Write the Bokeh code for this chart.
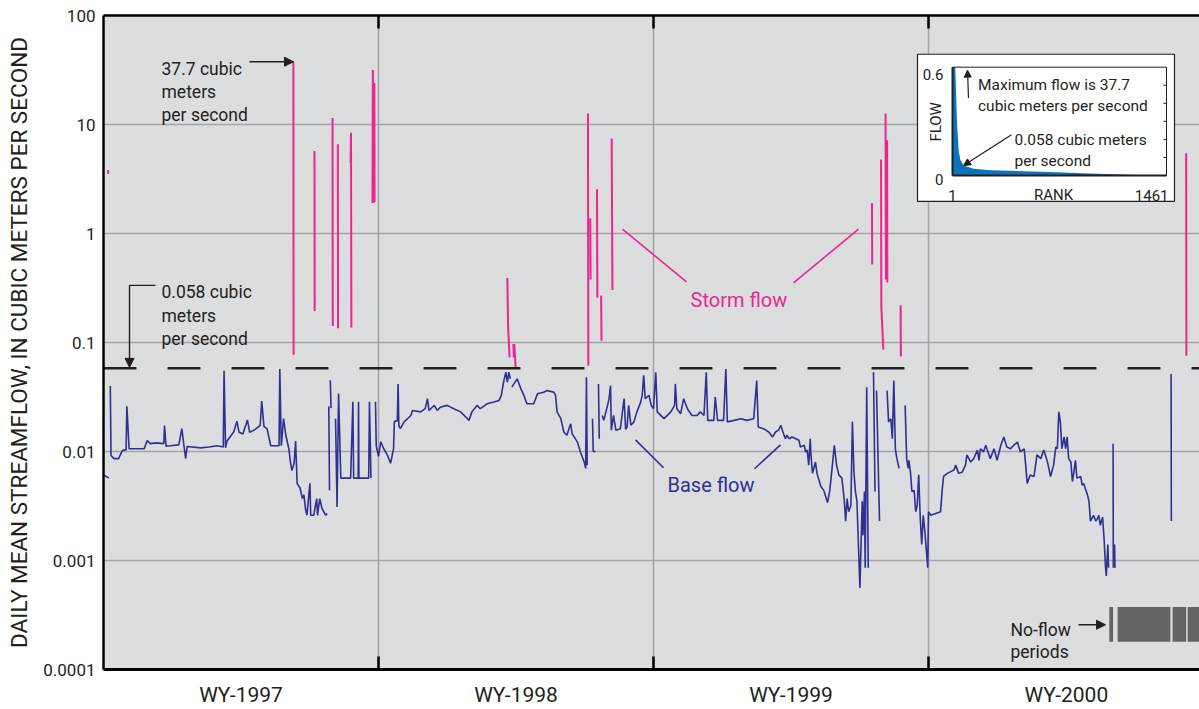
import numpy as np
from bokeh.plotting import figure
from bokeh.models import (Range1d, LinearScale, FixedTicker, LinearAxis, Span,
                          Arrow, NormalHead, ColumnDataSource)
from bokeh.core.properties import value
from bokeh.embed import file_html
from bokeh.resources import INLINE

# ---------------------------------------------------------------- data
year_bounds = [365, 730, 1095]
year_centers = [182.5, 547.5, 912.5, 1278]
year_labels = ["WY-1997", "WY-1998", "WY-1999", "WY-2000"]
ytick_values = [0.0001, 0.001, 0.01, 0.1, 1, 10, 100]
ytick_labels = ["0.0001", "0.001", "0.01", "0.1", "1", "10", "100"]
threshold = 0.058

# base flow (day of record, m3/s); None marks a break in the trace
base_wy1997 = [
    (0, 0.0061), (7, 0.0057), (8, None),
    (9, 0.040), (10, 0.0092), (14, 0.0086), (20, 0.0086), (25, 0.0102), (30, 0.0104),
    (31, 0.026), (34, 0.0106), (54, 0.0106), (58, 0.0126), (62, 0.0118), (70, 0.0120),
    (80, 0.0118), (81, 0.0173), (83, 0.0112), (89, 0.0113), (100, 0.0115), (104, 0.0162),
    (107, 0.0110), (109, 0.0086), (111, 0.0111), (129, 0.0108), (140, 0.0110), (151, 0.0113),
    (159, 0.0110), (160, 0.055), (162, 0.0108), (164, 0.0125), (173, 0.0152), (177, 0.019),
    (180, 0.0150), (185, 0.0145), (191, 0.0195), (194, 0.0150), (200, 0.0157), (208, 0.0174),
    (210, 0.029), (213, 0.0169), (217, 0.0162), (222, 0.0113), (233, 0.0113), (234, 0.057),
    (236, 0.0113), (239, 0.020), (242, 0.0141), (246, 0.0106), (248, 0.0081), (250, 0.0067),
    (253, 0.0078), (255, 0.0125), (257, 0.0051), (261, 0.0046), (264, 0.0037), (266, 0.0040),
    (268, 0.0030), (270, 0.0026), (274, 0.0051), (275, 0.0026), (279, 0.0026), (283, 0.0037),
    (284, 0.0026), (287, 0.0037), (290, 0.0030), (295, 0.0026), (297, 0.0027), (298, None),
    (299, 0.026), (300, 0.0044), (300.5, None), (301, 0.045), (302, 0.025), (303, None),
    (308, 0.020), (310, 0.0031), (312, 0.034), (315, 0.0057), (328, 0.0057), (331, 0.0286),
    (332, 0.0057), (338, 0.0057), (338.5, 0.0286), (339, 0.0057), (352, 0.0057), (353, 0.0286),
    (355, 0.0057), (358, None),
    (361, 0.0286), (362, 0.0113), (365, 0.0090),
]
base_wy1998 = [
    (368, 0.0123), (372, 0.0106), (377, 0.0092), (381, 0.0078), (385, 0.0106), (386, 0.0188),
    (390, 0.0192), (391, 0.0417), (392, 0.0173), (394, 0.0162), (399, 0.0187), (408, 0.0214),
    (410, 0.0238), (421, 0.0231), (427, 0.0247), (430, 0.0305), (432, 0.0238), (439, 0.0265),
    (443, 0.0238), (447, 0.0255), (456, 0.0265), (465, 0.0247), (474, 0.0231), (481, 0.0207),
    (485, 0.0193), (489, 0.0231), (496, 0.0265), (500, 0.0247), (509, 0.0274), (518, 0.0284),
    (525, 0.0294), (528, 0.0327), (531, 0.0432), (534, 0.0534), (536, 0.0432), (538, 0.0534),
    (540, 0.0464), (541, None),
    (542, 0.0389), (549, 0.0464), (554, 0.0376), (558, 0.0327), (562, 0.0274), (571, 0.0274),
    (576, 0.0338), (584, 0.0349), (589, 0.0362), (598, 0.0349), (600, 0.0327), (602, 0.0231),
    (607, 0.0200), (611, 0.0151), (615, 0.0141), (620, 0.0180), (622, 0.0146), (629, 0.0122),
    (633, 0.0099), (638, 0.0080), (640, 0.0070), (641, 0.0480), (642, 0.0075), (645, None),
    (649, 0.020), (650, 0.0100), (653, 0.0100), (655, None),
    (657, 0.0417), (658, 0.0131), (660, None),
    (662, 0.0214), (664, 0.0193), (669, 0.0265), (671, 0.0305), (673, 0.0403), (674, 0.0157),
    (677, 0.0214), (680, 0.0157), (686, 0.0162), (691, 0.0305), (693, 0.0160), (695, 0.0168),
    (697, 0.0265), (700, 0.0174), (704, 0.0187), (708, 0.0231), (713, 0.0284), (715, 0.0327),
    (717, 0.0499), (719, 0.0305), (724, 0.0327), (727, 0.0265), (730, 0.0247),
]
base_wy1999 = [
    (733, 0.0534), (735, 0.0231), (744, 0.0200), (753, 0.0231), (758, 0.0265), (759, 0.0417),
    (761, 0.0247), (766, 0.0222), (770, 0.0305), (775, 0.0247), (781, 0.0214), (788, 0.0214),
    (792, 0.0231), (797, 0.0214), (800, 0.0534), (802, 0.0193), (810, 0.0193), (812, 0.0316),
    (815, 0.0193), (823, 0.0193), (826, 0.0572), (828, 0.0187), (837, 0.0193), (846, 0.0200),
    (854, 0.0193), (863, 0.0200), (867, 0.0447), (869, 0.0168), (876, 0.0162), (883, 0.0151),
    (888, 0.0136), (892, 0.0151), (896, 0.0157), (899, 0.0174), (901, 0.0157), (905, 0.0131),
    (907, 0.0141), (910, 0.0131), (914, 0.0136), (919, 0.0131), (923, 0.0127), (925, 0.0110),
    (930, 0.0114), (932, 0.0099), (934, 0.0103), (936, 0.0075), (938, 0.0131), (939, 0.0093),
    (941, 0.0063), (945, 0.0080), (947, 0.0063), (952, 0.0048), (956, 0.0044), (961, 0.0034),
    (964, 0.0044), (967, 0.0070), (970, 0.0114), (973, 0.0075), (976, 0.0061), (980, 0.0057),
    (983, 0.0037), (985, 0.0023), (987, 0.0037), (989, 0.0028), (992, 0.0032), (994, 0.0187),
    (996, 0.0065), (998, 0.0043), (1000, 0.0035), (1004, 0.00056), (1007, 0.0035),
    (1008, 0.0017), (1010, 0.0043), (1011, 0.00086), (1013, 0.0389), (1015, 0.00086),
    (1018, None),
    (1022, 0.0534), (1024, 0.0043), (1025, None),
    (1026, 0.0362), (1030, 0.0023), (1035, None),
    (1040, 0.0362), (1042, 0.0187), (1045, 0.0200), (1047, 0.0131), (1049, 0.0447),
    (1051, 0.0106), (1053, 0.0086), (1056, 0.0070), (1060, None),
    (1064, 0.0265), (1066, 0.0086), (1068, 0.0070), (1069, 0.0083), (1071, 0.0065),
    (1073, 0.0043), (1076, 0.0044), (1078, 0.0028), (1080, 0.0032), (1082, 0.0061),
    (1084, 0.0025), (1086, 0.0014), (1088, 0.0026), (1090, 0.0019), (1094, 0.00086),
    (1095, 0.0028),
]
base_wy2000 = [
    (1098, 0.0026), (1111, 0.0028), (1113, 0.0043), (1115, 0.0059), (1120, 0.0063),
    (1124, 0.0065), (1129, 0.0068), (1131, 0.0075), (1135, 0.0063), (1140, 0.0065),
    (1144, 0.0075), (1146, 0.0093), (1151, 0.0080), (1155, 0.0086), (1160, 0.0103),
    (1162, 0.0083), (1164, 0.0106), (1168, 0.0099), (1171, 0.0114), (1173, 0.0103),
    (1177, 0.0086), (1182, 0.0106), (1186, 0.0083), (1191, 0.0114), (1195, 0.0136),
    (1199, 0.0110), (1204, 0.0106), (1208, 0.0114), (1213, 0.0122), (1217, 0.0099),
    (1222, 0.0106), (1224, 0.0075), (1226, 0.0051), (1230, 0.0061), (1235, 0.0059),
    (1239, 0.0093), (1244, 0.0086), (1248, 0.0103), (1253, 0.0080), (1257, 0.0059),
    (1261, 0.0075), (1264, 0.0110), (1266, 0.0106), (1268, 0.0231), (1270, 0.0187),
    (1272, 0.0106), (1275, 0.0136), (1277, 0.0106), (1279, 0.0136), (1281, 0.0086),
    (1284, 0.0080), (1286, 0.0053), (1288, 0.0065), (1290, 0.0083), (1292, 0.0057),
    (1297, 0.0059), (1299, 0.0049), (1301, 0.0051), (1303, 0.0046), (1306, 0.0040),
    (1308, 0.0035), (1310, 0.0023), (1314, 0.0026), (1317, 0.0023), (1319, 0.0024),
    (1321, 0.0026), (1323, 0.0021), (1326, 0.0025), (1328, 0.0016), (1330, 0.00086),
    (1331, 0.00072), (1333, 0.0014), (1334, 0.00086), (1336, None),
    (1340, 0.0118), (1340.3, 0.00086), (1342, 0.0014), (1342.5, 0.00086), (1345, None),
    (1417, 0.0515), (1417.3, 0.0023),
]

# storm flow (day of record, m3/s); None marks a break
storm_points = [
    (6, 3.82), (6.3, 3.52), (6.5, None),
    (252, 37.7), (252.3, 0.077), (253, None),
    (280, 5.7), (280.3, 0.195), (281, None),
    (304, 11.5), (304.3, 0.142), (305, None),
    (311, 6.6), (311.3, 0.135), (312, None),
    (328, 4.4), (328.5, 8.4), (329, 0.137), (330, None),
    (357, 1.9), (357.5, 31.7), (358.5, 1.92), (359.5, 24.0), (359.8, 1.95), (360, None),
    (536, 0.39), (537, 0.142), (539, 0.073), (540, None),
    (544, 0.097), (544.5, 0.073), (545.2, 0.097), (547, 0.059), (548, None),
    (643, 12.6), (643.5, 0.0613), (644, None),
    (646, 1.38), (646.5, 0.379), (647, None),
    (655, 2.55), (655.5, 0.258), (656, None),
    (660.5, 0.27), (661, 0.104), (662, None),
    (674.5, 7.43), (675.5, 0.303), (676, None),
    (1020, 1.90), (1020.3, 0.519), (1021, None),
    (1032, 4.78), (1032.4, 0.216), (1035, 0.086), (1036, None),
    (1038, 12.6), (1038.5, 0.379), (1039, None),
    (1040, 7.18), (1040.4, 0.355), (1041, None),
    (1058, 0.22), (1058.3, 0.0746), (1059, None),
    (1437, 5.45), (1437.3, 0.0757),
]

# periods with no flow (day of record)
noflow_start = [1335, 1346, 1419, 1439]
noflow_end = [1340, 1416, 1437, 1461]

# inset: flow-duration curve (rank, m3/s)
inset_rank = [1, 20, 32, 43, 54, 77, 145, 260, 486, 712, 938, 1165, 1350, 1461]
inset_flow = [37.7, 0.6, 0.29, 0.14, 0.088, 0.055, 0.037, 0.029, 0.024, 0.018, 0.011, 0.006, 0.0, 0.0]
inset_ymax = 0.6

# ---------------------------------------------------------------- helpers
FONT = "Roboto"
TXT = "#231F20"
PINK = "#EC268F"
NAVY = "#2E3192"


def split(points):
    d = np.array([pt[0] for pt in points], dtype=float)
    v = np.array([np.nan if pt[1] is None else pt[1] for pt in points], dtype=float)
    return d, v


base_day, base_flow = split(base_wy1997 + base_wy1998 + base_wy1999 + base_wy2000)
storm_day, storm_flow = split(storm_points)

# frame geometry (pixels) used for the annotation coordinate system
FL, FR, FT, FB = 103, 1199, 15, 673
DAYS_PER_PX = 365 / 275.0

p = figure(width=1199, height=709, output_backend="svg", toolbar_location=None,
           x_range=Range1d(0, (FR - FL) * DAYS_PER_PX), y_range=Range1d(1e-4, 100),
           y_axis_type="log", min_border_left=FL, min_border_right=0,
           min_border_top=FT, min_border_bottom=709 - FB)
p.background_fill_color = "#DCDDDF"
p.border_fill_color = "white"
p.outline_line_color = None

# inset coordinate systems
IL, IR, IT, IB = 952, 1166, 67, 176
r_span = (1461 - 1) * (FR - FL) / (IR - IL)
r_start = 1 - (IL - FL) / (FR - FL) * r_span
f_span = inset_ymax * (FB - FT) / (IB - IT)
f_start = 0 - (FB - IB) / (FB - FT) * f_span
p.extra_x_ranges = {"px": Range1d(FL, FR), "rank": Range1d(r_start, r_start + r_span)}
p.extra_y_ranges = {"px": Range1d(FB, FT), "flow": Range1d(f_start, f_start + f_span)}
p.extra_x_scales = {"px": LinearScale(), "rank": LinearScale()}
p.extra_y_scales = {"px": LinearScale(), "flow": LinearScale()}

# axes
xa = p.xaxis[0]
xa.ticker = FixedTicker(ticks=year_centers, minor_ticks=year_bounds)
xa.major_label_overrides = dict(zip(year_centers, year_labels))
xa.major_tick_line_color = None
xa.major_tick_in = 0
xa.major_tick_out = 0
xa.minor_tick_in = 13
xa.minor_tick_out = 0
xa.minor_tick_line_color = "black"
xa.minor_tick_line_width = 2.5
xa.axis_line_color = "black"
xa.axis_line_width = 3
xa.major_label_text_font = FONT
xa.major_label_text_font_size = "21px"
xa.major_label_text_color = TXT
xa.major_label_standoff = 13

top = LinearAxis(ticker=FixedTicker(ticks=year_bounds, minor_ticks=[]),
                 major_label_overrides={b: "" for b in year_bounds},
                 major_label_text_font_size="0px", major_tick_in=13, major_tick_out=0,
                 major_tick_line_width=2.5, major_tick_line_color="black",
                 axis_line_color="black", axis_line_width=2.5, major_label_standoff=0)
p.add_layout(top, "above")

ya = p.yaxis[0]
ya.ticker = FixedTicker(ticks=ytick_values, minor_ticks=[])
ya.major_label_overrides = dict(zip(ytick_values, ytick_labels))
ya.major_tick_in = 0
ya.major_tick_out = 0
ya.axis_line_color = "black"
ya.axis_line_width = 2.5
ya.major_label_text_font = FONT
ya.major_label_text_font_size = "17px"
ya.major_label_text_color = TXT
ya.major_label_standoff = 8
ya.axis_label = "DAILY MEAN STREAMFLOW, IN CUBIC METERS PER SECOND"
ya.axis_label_text_font = FONT
ya.axis_label_text_font_size = "22.5px"
ya.axis_label_text_font_style = "normal"
ya.axis_label_text_color = TXT
ya.axis_label_standoff = 8

p.xgrid.ticker = FixedTicker(ticks=year_bounds, minor_ticks=[])
p.ygrid.ticker = FixedTicker(ticks=ytick_values, minor_ticks=[])
for g in (p.xgrid[0], p.ygrid[0]):
    g.grid_line_color = "#A3A5A8"
    g.grid_line_width = 1.6

# threshold line
p.add_layout(Span(location=threshold, dimension="width", line_color="#231F20",
                  line_width=2.6, line_dash="33 31", level="glyph"))

# data traces
p.line(base_day, base_flow, line_color=NAVY, line_width=1.6)
p.line(storm_day, storm_flow, line_color=PINK, line_width=2)

# no-flow periods
p.quad(left=noflow_start, right=noflow_end, bottom=645, top=610, y_range_name="px",
       fill_color="#646466", line_color=None)


def text(xs, ys, texts, size, color=TXT, align="left", baseline="alphabetic", angle=0.0,
         xr="px", yr="px"):
    src = ColumnDataSource(dict(x=xs, y=ys, t=texts))
    p.text(x="x", y="y", text="t", source=src, x_range_name=xr, y_range_name=yr,
           text_font=value(FONT), text_font_size=value(size), text_color=color,
           text_align=align, text_baseline=baseline, angle=angle)


def arrow(x0, y0, x1, y1, size=9, color="#231F20", width=1.4):
    p.add_layout(Arrow(x_start=x0, y_start=y0, x_end=x1, y_end=y1,
                       x_range_name="px", y_range_name="px",
                       line_color=color, line_width=width,
                       end=NormalHead(size=size, fill_color=color, line_color=color)))


# main annotations
text([161, 161, 161], [68.5, 92, 115.5], ["37.7 cubic", "meters", "per second"], "17.5px")
arrow(249, 61.5, 293, 61.5)
text([161, 161, 161], [293.5, 317, 340.5], ["0.058 cubic", "meters", "per second"], "17.5px")
p.segment(x0=[155], y0=[286.5], x1=[129], y1=[286.5], x_range_name="px", y_range_name="px",
          line_color="#231F20", line_width=1.4)
arrow(129, 286.5, 129, 369)
text([1010, 1010], [633, 655], ["No-flow", "periods"], "17.5px")
arrow(1078, 628, 1105, 628)

text([690], [301.5], ["Storm flow"], "20px", color=PINK)
p.segment(x0=[622, 858], y0=[230, 230], x1=[686, 793], y1=[283, 284],
          x_range_name="px", y_range_name="px", line_color=PINK, line_width=1.6)
text([667], [487], ["Base flow"], "20px", color=NAVY)
p.segment(x0=[635, 754], y0=[442, 471], x1=[663, 780], y1=[470, 447],
          x_range_name="px", y_range_name="px", line_color=NAVY, line_width=1.6)

# inset
p.quad(left=[917], right=[1174], top=[54], bottom=[202], x_range_name="px",
       y_range_name="px", fill_color="white", line_color="#231F20", line_width=1.2)
p.varea(x=inset_rank, y1=np.zeros(len(inset_rank)),
        y2=np.minimum(np.array(inset_flow), inset_ymax),
        x_range_name="rank", y_range_name="flow", fill_color="#0B74BE")
p.quad(left=[1], right=[1461], bottom=[0], top=[inset_ymax], x_range_name="rank",
       y_range_name="flow", fill_color=None, line_color="#231F20", line_width=1)
p.segment(x0=[1, 1], y0=[0, 0], x1=[1, 1461], y1=[inset_ymax, 0], x_range_name="rank",
          y_range_name="flow", line_color="#231F20", line_width=2)
inset_ticks = [0.1, 0.2, 0.3, 0.4, 0.5]
p.segment(x0=[1461] * 5, y0=inset_ticks, x1=[1440] * 5, y1=inset_ticks,
          x_range_name="rank", y_range_name="flow", line_color="#231F20", line_width=1)
text([943, 943], [74, 180], ["0.6", "0"], "15px", align="right")
text([952], [196], ["1"], "15px", align="center")
text([1053], [196], ["RANK"], "15px", align="center")
text([1168], [196], ["1461"], "15px", align="right")
text([935], [122], ["FLOW"], "15px", align="center", baseline="middle", angle=np.pi / 2)
text([977.5, 977.5], [85, 106], ["Maximum flow is 37.7", "cubic meters per second"], "15.5px")
arrow(968, 98, 967, 70, size=7, width=1.2)
text([1014, 1014], [140.5, 161], ["0.058 cubic meters", "per second"], "15.5px")
arrow(1011, 135, 963, 166, size=7, width=1.2)

open("out.html", "w").write(file_html(p, INLINE))
